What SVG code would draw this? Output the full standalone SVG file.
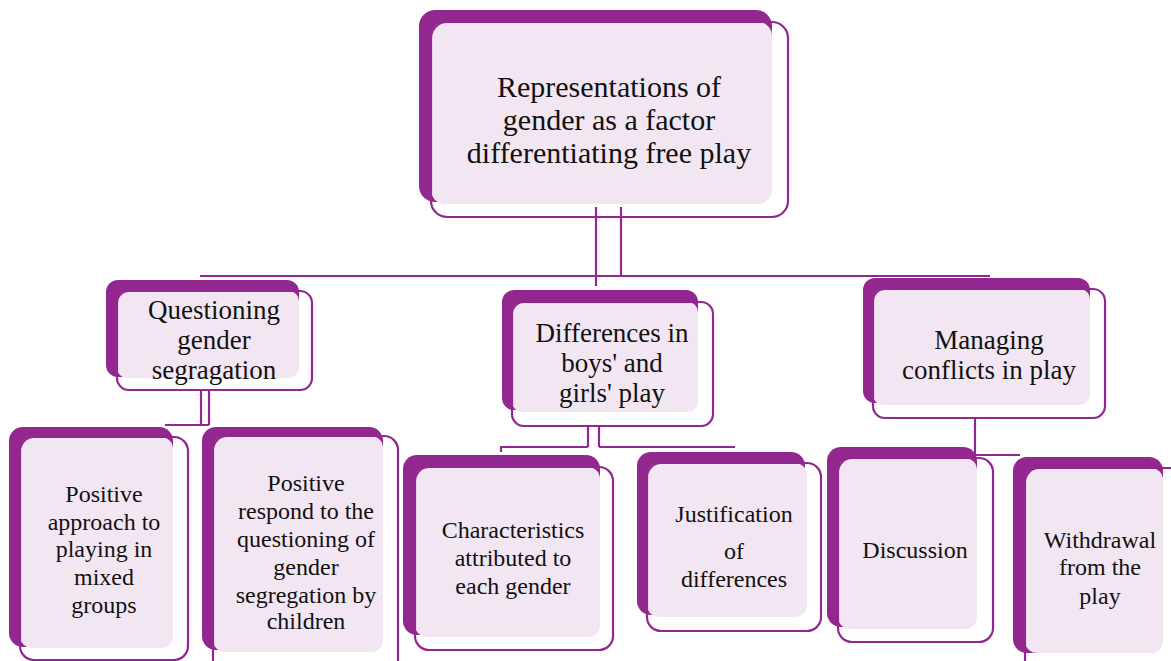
<svg xmlns="http://www.w3.org/2000/svg" width="1171" height="661" viewBox="0 0 1171 661">
<style>
.bk{fill:#92278F}
.lt{fill:#F3E6F3}
.ol{fill:none;stroke:#92278F;stroke-width:2.2}
.cn{fill:none;stroke:#92278F;stroke-width:2.2}
text{font-family:'Liberation Serif','Times New Roman','DejaVu Serif',serif;fill:#111;text-anchor:middle}
.t1{font-size:30px}
.t2{font-size:27px}
.t3{font-size:24px}
</style>
<rect width="1171" height="661" fill="#fff"/>
<g id="connectors">
<path class="cn" d="M596,207 V286 M621,207 V276 M596,276 H621 M200,276 H990"/>
<path class="cn" d="M201,390 V425 M209,390 V425 M165,425 H209"/>
<path class="cn" d="M588,426 V447 M599,426 V447 M501,452 V447 H588 M599,447 H735"/>
<path class="cn" d="M975,418 V455 H1020"/>
</g>
<g id="root">
<rect class="bk" x="419" y="10" width="353" height="192" rx="16"/>
<rect class="lt" x="431" y="22" width="341" height="182" rx="14"/>
<rect class="ol" x="431" y="22" width="357" height="195" rx="16"/>
<text class="t1"><tspan x="609" y="97">Representations of</tspan><tspan x="609" y="130">gender as a factor</tspan><tspan x="609" y="163">differentiating free play</tspan></text>
</g>
<g id="n-questioning">
<rect class="bk" x="106" y="280" width="193" height="97" rx="12"/>
<rect class="lt" x="117" y="291" width="182" height="87" rx="10"/>
<rect class="ol" x="117" y="291" width="195" height="99" rx="12"/>
<text class="t2"><tspan x="214" y="319">Questioning</tspan><tspan x="214" y="349">gender</tspan><tspan x="214" y="379">segragation</tspan></text>
</g>
<g id="n-differences">
<rect class="bk" x="502" y="290" width="196" height="120" rx="12"/>
<rect class="lt" x="512" y="302" width="186" height="110" rx="10"/>
<rect class="ol" x="512" y="302" width="201" height="124" rx="12"/>
<text class="t2"><tspan x="612" y="342">Differences in</tspan><tspan x="612" y="372">boys' and</tspan><tspan x="612" y="402">girls' play</tspan></text>
</g>
<g id="n-managing">
<rect class="bk" x="863" y="278" width="227" height="125" rx="12"/>
<rect class="lt" x="873" y="289" width="217" height="116" rx="10"/>
<rect class="ol" x="873" y="289" width="232" height="129" rx="12"/>
<text class="t2"><tspan x="989" y="349">Managing</tspan><tspan x="989" y="379">conflicts in play</tspan></text>
</g>
<g id="leaf-positive-approach">
<rect class="bk" x="9" y="427" width="164" height="220" rx="14"/>
<rect class="lt" x="20" y="437" width="153" height="211" rx="12"/>
<rect class="ol" x="20" y="437" width="168" height="223" rx="14"/>
<text class="t3"><tspan x="104" y="502">Positive</tspan><tspan x="104" y="530">approach to</tspan><tspan x="104" y="557">playing in</tspan><tspan x="104" y="585">mixed</tspan><tspan x="104" y="613">groups</tspan></text>
</g>
<g id="leaf-positive-respond">
<rect class="bk" x="202" y="427" width="181" height="223" rx="14"/>
<rect class="lt" x="213" y="436" width="170" height="216" rx="12"/>
<rect class="ol" x="213" y="436" width="185" height="240" rx="14"/>
<text class="t3"><tspan x="306" y="491">Positive</tspan><tspan x="306" y="519">respond to the</tspan><tspan x="306" y="547">questioning of</tspan><tspan x="306" y="575">gender</tspan><tspan x="306" y="603">segregation by</tspan><tspan x="306" y="629">children</tspan></text>
</g>
<g id="leaf-characteristics">
<rect class="bk" x="403" y="455" width="197" height="180" rx="14"/>
<rect class="lt" x="415" y="467" width="185" height="170" rx="12"/>
<rect class="ol" x="415" y="467" width="198" height="183" rx="14"/>
<text class="t3"><tspan x="513" y="538">Characteristics</tspan><tspan x="513" y="566">attributed to</tspan><tspan x="513" y="594">each gender</tspan></text>
</g>
<g id="leaf-justification">
<rect class="bk" x="637" y="452" width="168" height="163" rx="14"/>
<rect class="lt" x="647" y="463" width="160" height="154" rx="12"/>
<rect class="ol" x="647" y="463" width="174" height="168" rx="14"/>
<text class="t3"><tspan x="734" y="522">Justification</tspan><tspan x="734" y="559">of</tspan><tspan x="734" y="587">differences</tspan></text>
</g>
<g id="leaf-discussion">
<rect class="bk" x="827" y="447" width="150" height="180" rx="14"/>
<rect class="lt" x="838" y="458" width="139" height="171" rx="12"/>
<rect class="ol" x="838" y="458" width="155" height="184" rx="14"/>
<text class="t3"><tspan x="915" y="558">Discussion</tspan></text>
</g>
<g id="leaf-withdrawal">
<rect class="bk" x="1013" y="457" width="150" height="196" rx="14"/>
<rect class="lt" x="1025" y="468" width="138" height="185" rx="12"/>
<rect class="ol" x="1025" y="468" width="160" height="210" rx="14"/>
<text class="t3"><tspan x="1100" y="548">Withdrawal</tspan><tspan x="1100" y="575">from the</tspan><tspan x="1100" y="604">play</tspan></text>
</g>
</svg>
